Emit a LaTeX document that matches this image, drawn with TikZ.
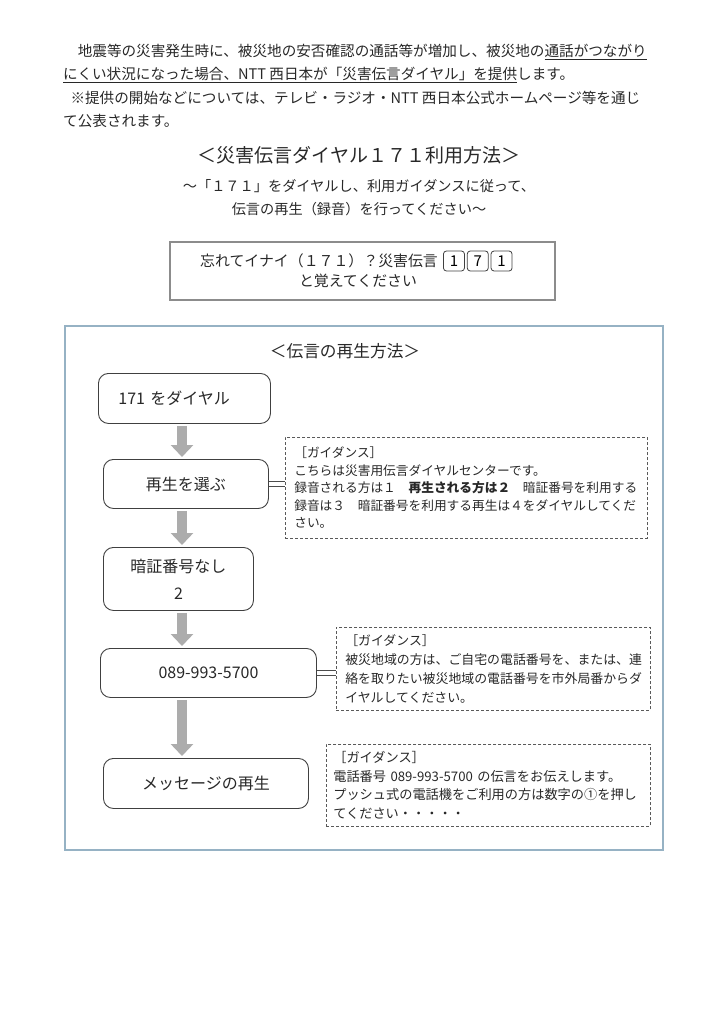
\documentclass[tikz,border=0pt]{standalone}
\usepackage{fontspec}
\setmainfont{Noto Sans CJK JP}
\usetikzlibrary{arrows.meta,positioning}
\definecolor{framecol}{RGB}{150,178,196}
\definecolor{arrowcol}{RGB}{172,172,172}
\definecolor{inkcol}{RGB}{40,40,40}
\tikzset{
    rounded-step/.style = {draw=black!75, line width=0.9pt, rounded corners=10pt, inner sep=0pt, anchor=north west, align=center, text=inkcol, font=\fontsize{16}{27}\selectfont},
    guide-box/.style = {draw=black!65, densely dashed, line width=0.6pt, anchor=north west, align=left, inner ysep=4pt, text=inkcol},
    flow-arrow/.style = {draw=arrowcol, line width=10pt, shorten <=2pt, shorten >=2pt, -{Triangle[width=22pt,length=12pt]}},
    link-line/.style = {draw=black!70, line width=0.7pt, double=white, double distance=4.5pt},
    digit-box/.style = {draw=black!75, line width=0.8pt, rounded corners=3pt, minimum width=21pt, minimum height=20pt, inner sep=0pt, font=\fontsize{15}{15}\selectfont},
}

\begin{document}
\begin{tikzpicture}[x=1pt,y=-1pt]
\useasboundingbox (0,0) rectangle (724,1024);

% introduction
\node[anchor=north west, inner sep=0pt, align=left, text=inkcol, font=\fontsize{14.6}{23.3}\selectfont] (intro) at (63,44)
    {　地震等の災害発生時に、被災地の安否確認の通話等が増加し、被災地の\underline{通話がつながり}\\
     \underline{にくい状況になった場合、NTT 西日本が「災害伝言ダイヤル」を提供}します。\\
     \hspace*{0.5em}※提供の開始などについては、テレビ・ラジオ・NTT 西日本公式ホームページ等を通じ\\
     て公表されます。};

\node[text=inkcol, font=\fontsize{19}{19}\selectfont] (title) at (359,155) {＜災害伝言ダイヤル１７１利用方法＞};
\node[text=inkcol, align=center, font=\fontsize{14.2}{23}\selectfont] (subtitle) at (359,197.5)
    {～「１７１」をダイヤルし、利用ガイダンスに従って、\\伝言の再生（録音）を行ってください～};

% reminder box
\draw[draw=black!45, line width=2.5pt] (170,242) rectangle (555,300);
\node[anchor=west, inner sep=0pt, text=inkcol, font=\fontsize{14.9}{18}\selectfont] (remind-text) at (200,261) {忘れてイナイ（１７１）？災害伝言};
\node[digit-box, right=5pt of remind-text] (d1) {1};
\node[digit-box, right=2pt of d1] (d2) {7};
\node[digit-box, right=2pt of d2] (d3) {1};
\node[text=inkcol, font=\fontsize{14.9}{18}\selectfont] (remind-note) at (358,281) {と覚えてください};

% playback frame
\draw[draw=framecol, line width=1.5pt] (65,326) rectangle (663,850);
\node[text=inkcol, font=\fontsize{16.7}{18}\selectfont] (play-title) at (345,351) {＜伝言の再生方法＞};

% steps
\node[rounded-step, minimum height=50pt, text width=132pt, inner xsep=20pt, align=left] (b-dial) at (98,373) {171 をダイヤル};
\node[rounded-step, minimum width=165pt, minimum height=49pt] (b-select) at (103,459) {再生を選ぶ};
\node[rounded-step, minimum width=150pt, minimum height=63pt] (b-nopin) at (103,547) {暗証番号なし\\2};
\node[rounded-step, minimum width=216pt, minimum height=49pt] (b-number) at (100,648) {089-993-5700};
\node[rounded-step, minimum width=205pt, minimum height=50pt] (b-play) at (103,758) {メッセージの再生};

% guidance
\node[guide-box, minimum width=362pt, minimum height=101pt, inner xsep=9pt, text width=344pt, font=\fontsize{12.7}{17.5}\selectfont] (g-select) at (285,437)
    {［ガイダンス］\\
     こちらは災害用伝言ダイヤルセンターです。\\
     録音される方は１　{\bfseries 再生される方は２}　暗証番号を利用する\\
     録音は３　暗証番号を利用する再生は４をダイヤルしてくだ\\
     さい。};
\node[guide-box, minimum width=314pt, minimum height=83pt, inner xsep=9pt, text width=296pt, font=\fontsize{12.9}{19}\selectfont] (g-number) at (336,627)
    {［ガイダンス］\\
     被災地域の方は、ご自宅の電話番号を、または、連\\
     絡を取りたい被災地域の電話番号を市外局番からダ\\
     イヤルしてください。};
\node[guide-box, minimum width=324pt, minimum height=82pt, inner xsep=7pt, text width=310pt, font=\fontsize{13.2}{18.5}\selectfont] (g-play) at (326,744)
    {［ガイダンス］\\
     電話番号 089-993-5700 の伝言をお伝えします。\\
     プッシュ式の電話機をご利用の方は数字の①を押し\\
     てください・・・・・};

% arrows
\coordinate (ax) at (182,0);
\draw[flow-arrow] (b-dial.south -| ax) -- (b-select.north -| ax);
\draw[flow-arrow] (b-select.south -| ax) -- (b-nopin.north -| ax);
\draw[flow-arrow] (b-nopin.south -| ax) -- (b-number.north -| ax);
\draw[flow-arrow] (b-number.south -| ax) -- (b-play.north -| ax);

% links to guidance
\draw[link-line] (b-select.east) -- (b-select.east -| g-select.west);
\draw[link-line] (b-number.east) -- (b-number.east -| g-number.west);
\draw[link-line] (b-play.east) -- (b-play.east -| g-play.west);
\end{tikzpicture}
\end{document}
